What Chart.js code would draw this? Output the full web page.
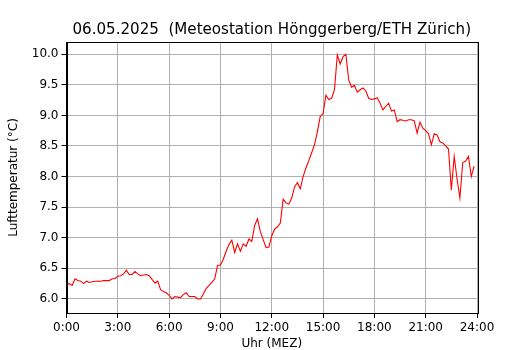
<!DOCTYPE html>
<html>
<head>
<meta charset="utf-8">
<script src="https://cdn.jsdelivr.net/npm/chart.js@4"></script>
<style>
  html, body { margin: 0; padding: 0; background: #fff; }
  #wrap { width: 530px; height: 350px; }
</style>
</head>
<body>
<div id="wrap"><canvas id="chart" width="530" height="350"></canvas></div>
<script>
const chartTitle = "06.05.2025  (Meteostation Hönggerberg/ETH Zürich)";
const xLabel = "Uhr (MEZ)";
const yLabel = "Lufttemperatur (°C)";

// 10-minute readings from 0:00 to 23:50
const stepMinutes = 10;
const temps = [
  6.23, 6.25, 6.22, 6.33, 6.30, 6.29, 6.25, 6.29, 6.27, 6.28, 6.29, 6.29,
  6.29, 6.30, 6.30, 6.30, 6.33, 6.33, 6.37, 6.38, 6.41, 6.47, 6.40, 6.40,
  6.45, 6.41, 6.38, 6.39, 6.40, 6.38, 6.32, 6.26, 6.29, 6.15, 6.12, 6.10,
  6.06, 6.00, 6.04, 6.03, 6.02, 6.07, 6.10, 6.04, 6.04, 6.04, 6.00, 6.00,
  6.08, 6.17, 6.22, 6.27, 6.33, 6.55, 6.55, 6.65, 6.78, 6.89, 6.96, 6.76,
  6.90, 6.78, 6.90, 6.86, 6.98, 6.94, 7.20, 7.31, 7.10, 6.97, 6.84, 6.85,
  7.03, 7.14, 7.18, 7.24, 7.63, 7.57, 7.55, 7.65, 7.83, 7.90, 7.80, 8.00,
  8.14, 8.26, 8.39, 8.52, 8.73, 8.98, 9.03, 9.33, 9.26, 9.28, 9.42, 9.99,
  9.84, 9.96, 10.00, 9.58, 9.46, 9.49, 9.38, 9.42, 9.45, 9.40, 9.28, 9.26,
  9.27, 9.29, 9.20, 9.09, 9.15, 9.20, 9.07, 9.09, 8.90, 8.93, 8.92, 8.91,
  8.93, 8.93, 8.91, 8.71, 8.89, 8.79, 8.75, 8.70, 8.52, 8.70, 8.68, 8.57,
  8.55, 8.50, 8.45, 7.78, 8.33, 7.96, 7.65, 8.23, 8.25, 8.33, 8.00, 8.17
];

const xTicks = [0, 3, 6, 9, 12, 15, 18, 21, 24];
const yTicks = [6.0, 6.5, 7.0, 7.5, 8.0, 8.5, 9.0, 9.5, 10.0];

const points = temps.map((t, i) => ({ x: i * stepMinutes / 60, y: t }));

const font = "'DejaVu Sans', sans-serif";

// frame + title drawn over the chart area, matplotlib style
const framePlugin = {
  id: "frame",
  afterDraw(chart) {
    const { ctx, chartArea: a } = chart;
    ctx.save();
    ctx.strokeStyle = "#000";
    ctx.lineWidth = 1;
    ctx.strokeRect(Math.round(a.left) + 0.5, Math.round(a.top) + 0.5,
      Math.round(a.right - a.left), Math.round(a.bottom - a.top));
    ctx.fillStyle = "#000";
    ctx.font = "15.1px " + font;
    ctx.textAlign = "center";
    ctx.textBaseline = "alphabetic";
    ctx.fillText(chartTitle, (a.left + a.right) / 2, a.top - 8);
    ctx.restore();
  }
};

new Chart(document.getElementById("chart").getContext("2d"), {
  type: "line",
  data: {
    datasets: [
      {
        data: points,
        borderColor: "#ff0000",
        borderWidth: 1.1,
        pointRadius: 0,
        tension: 0,
        fill: false,
      },
    ],
  },
  options: {
    responsive: false,
    animation: false,
    layout: { padding: { left: 0, right: 53, top: 42, bottom: 0 } },
    plugins: {
      legend: { display: false },
      tooltip: { enabled: false },
      title: { display: false },
    },
    scales: {
      x: {
        type: "linear",
        min: 0,
        max: 24,
        afterBuildTicks: (s) => { s.ticks = xTicks.map((v) => ({ value: v })); },
        afterFit: (s) => { s.height = 37; },
        ticks: {
          color: "#000",
          font: { family: font, size: 12 },
          padding: 3,
          maxRotation: 0,
          callback: (v) => v + ":00",
        },
        grid: { color: "#b0b0b0", lineWidth: 1, tickLength: 5, tickColor: "#000" },
        border: { color: "#000" },
        title: {
          display: true,
          text: xLabel,
          color: "#000",
          font: { family: font, size: 12, lineHeight: 1 },
          padding: { top: 0, bottom: 0 },
        },
      },
      y: {
        min: 5.77,
        max: 10.2,
        afterBuildTicks: (s) => { s.ticks = yTicks.map((v) => ({ value: v })); },
        afterFit: (s) => { s.width = 66.5; },
        ticks: {
          color: "#000",
          font: { family: font, size: 12 },
          padding: 3,
          callback: (v) => Number(v).toFixed(1),
        },
        grid: { color: "#b0b0b0", lineWidth: 1, tickLength: 5, tickColor: "#000" },
        border: { color: "#000" },
        title: {
          display: true,
          text: yLabel,
          color: "#000",
          font: { family: font, size: 12 },
          padding: { top: 7, bottom: 0 },
        },
      },
    },
  },
  plugins: [framePlugin],
});
</script>
</body>
</html>
